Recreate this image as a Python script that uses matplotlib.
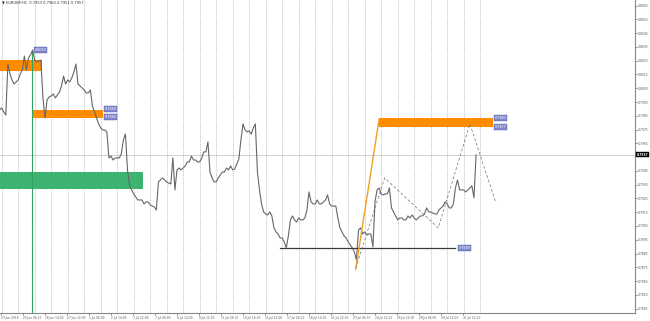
import numpy as np
import matplotlib
matplotlib.use('Agg')
import matplotlib.pyplot as plt
from matplotlib.patches import Rectangle

# EURGBP H1 closes, sampled every 3 bars
close = [
    0.79892, 0.79907, 0.79878, 0.79856, 0.80226, 0.80154, 0.80110, 0.80081, 0.80096, 0.80110,
    0.80154, 0.80183, 0.80284, 0.80183, 0.80270, 0.80292, 0.80328, 0.80255, 0.80241, 0.80248,
    0.80255, 0.79980, 0.79834, 0.79965, 0.79987, 0.79994, 0.80009, 0.79980, 0.80001, 0.80023,
    0.80067, 0.80139, 0.80081, 0.80110, 0.80096, 0.80125, 0.80168, 0.80226, 0.80081, 0.80067,
    0.80052, 0.80038, 0.80016, 0.80016, 0.80038, 0.79921, 0.79878, 0.79834, 0.79791, 0.79762,
    0.79747, 0.79747, 0.79733, 0.79544, 0.79558, 0.79529, 0.79544, 0.79544, 0.79544, 0.79573,
    0.79675, 0.79718, 0.79457, 0.79341, 0.79312, 0.79283, 0.79261, 0.79239, 0.79239, 0.79239,
    0.79210, 0.79225, 0.79225, 0.79203, 0.79195, 0.79188, 0.79166, 0.79370, 0.79384, 0.79399,
    0.79384, 0.79370, 0.79362, 0.79355, 0.79544, 0.79312, 0.79457, 0.79471, 0.79457, 0.79471,
    0.79486, 0.79515, 0.79515, 0.79558, 0.79529, 0.79529, 0.79515, 0.79515, 0.79544, 0.79588,
    0.79588, 0.79660, 0.79442, 0.79399, 0.79370, 0.79370, 0.79399, 0.79421, 0.79442, 0.79442,
    0.79471, 0.79457, 0.79486, 0.79457, 0.79464, 0.79500, 0.79537, 0.79675, 0.79791, 0.79747,
    0.79733, 0.79740, 0.79718, 0.79762, 0.79791, 0.79442, 0.79312, 0.79210, 0.79152, 0.79137,
    0.79130, 0.79152, 0.79123, 0.79036, 0.79007, 0.78992, 0.78963, 0.78963, 0.78934, 0.78891,
    0.78978, 0.79094, 0.79123, 0.79094, 0.79079, 0.79108, 0.79094, 0.79094, 0.79108, 0.79166,
    0.79297, 0.79225, 0.79210, 0.79210, 0.79239, 0.79210, 0.79210, 0.79225, 0.79239, 0.79275,
    0.79210, 0.79195, 0.79195, 0.79195, 0.79108, 0.79036, 0.79007, 0.78978, 0.78963, 0.78934,
    0.78912, 0.78891, 0.78862, 0.78803, 0.79021, 0.79036, 0.78992, 0.79007, 0.78985, 0.78992,
    0.78992, 0.78898, 0.79225, 0.79312, 0.79326, 0.79283, 0.79275, 0.79283, 0.79283, 0.79326,
    0.79181, 0.79152, 0.79123, 0.79094, 0.79108, 0.79108, 0.79094, 0.79094, 0.79123, 0.79108,
    0.79130, 0.79108, 0.79094, 0.79108, 0.79123, 0.79123, 0.79137, 0.79181, 0.79152, 0.79152,
    0.79145, 0.79137, 0.79137, 0.79166, 0.79181, 0.79195, 0.79225, 0.79210, 0.79181, 0.79181,
    0.79210, 0.79326, 0.79384, 0.79312, 0.79312, 0.79312, 0.79297, 0.79312, 0.79326, 0.79341,
    0.79254, 0.79566,
]
bar_step = 3
first_bar = -2

date_labels = ['23 Jun 2014', '25 Jun 06:00', '26 Jun 14:00', '27 Jun 22:00', '1 Jul 06:00',
               '2 Jul 14:00', '3 Jul 22:00', '7 Jul 06:00', '8 Jul 14:00', '9 Jul 22:00',
               '11 Jul 06:00', '14 Jul 14:00', '15 Jul 22:00', '17 Jul 06:00', '18 Jul 14:00',
               '21 Jul 22:00', '23 Jul 06:00', '24 Jul 14:00', '25 Jul 22:00', '29 Jul 06:00',
               '30 Jul 14:00', '31 Jul 22:00']
label_every = 32
n_days = 30

price_ticks = [round(0.8065 - 0.001 * i, 4) for i in range(23)]
last_price = 0.79566

# zones: (bar_start, bar_end, price_low, price_high)
supply_zones = [(-10, 59, 0.80178, 0.80255),
                (45, 149, 0.79836, 0.79892),
                (550, 715, 0.79771, 0.79832)]
demand_zone = (-10, 207, 0.79317, 0.79444)
zone_labels = [(151, 0.79900, '0.7989'), (151, 0.79842, '0.7984'),
               (718, 0.79832, '0.7983'), (718, 0.79771, '0.7977'),
               (49, 0.80328, '0.8033'), (666, 0.78888, '0.7889')]

support_bars = [406, 660]
support_price = 0.78888
impulse_bars = [516, 550]
impulse_prices = [0.78736, 0.79825]
zigzag_bars = [516, 558, 636, 682, 720]
zigzag_prices = [0.78745, 0.79399, 0.79036, 0.79791, 0.79217]
vline_bar = 45
vline_top = 0.80328

W, H = 650, 321
fig = plt.figure(figsize=(W / 100, H / 100), dpi=100)
ax = fig.add_axes([0, 8 / H, 635 / W, 313 / H])
ax.set_xlim(-1.45, 922.2)
ax.set_ylim(0.78418, 0.80691)

for j in range(n_days):
    ax.axvline(1 + 24 * j, color='#a8a8a8', lw=0.6, ls=(0, (1, 1.5)), zorder=1)

ax.axhline(last_price, color='#c8c8c8', lw=0.6, zorder=1)

for b0, b1, lo, hi in supply_zones:
    ax.add_patch(Rectangle((b0, lo), b1 - b0, hi - lo, color='#ff8c00', lw=0, zorder=2))
b0, b1, lo, hi = demand_zone
ax.add_patch(Rectangle((b0, lo), b1 - b0, hi - lo, color='#3cb371', lw=0, zorder=2))

ax.plot([vline_bar, vline_bar], [0.7800, vline_top], color='#2fa35f', lw=0.8, zorder=3)

x = first_bar + bar_step * np.arange(len(close))
ax.plot(x, close, color='#666666', lw=0.8, zorder=4)

ax.plot(support_bars, [support_price] * 2, color='#3a3a3a', lw=0.9, zorder=5)
ax.plot(impulse_bars, impulse_prices, color='#f0a020', lw=1.0, zorder=5)
ax.plot(zigzag_bars, zigzag_prices, color='#707070', lw=0.5, ls=(0, (4, 3)), zorder=5)

for b, p, txt in zone_labels:
    ax.text(b, p, txt, fontsize=2.4, color='white', ha='left', va='center', zorder=6,
            bbox=dict(boxstyle='square,pad=0.25', fc='#7f86cc', ec='#5b62b0', lw=0.3))

ax.text(0.003, 0.997, '\u25bc EURGBP,H1  0.7953 0.7960 0.7951 0.7957', transform=ax.transAxes,
        fontsize=2.6, color='#333333', ha='left', va='top')

for s in ['top', 'left']:
    ax.spines[s].set_visible(False)
for s in ['right', 'bottom']:
    ax.spines[s].set_color('#888888')
    ax.spines[s].set_linewidth(0.8)

ax.yaxis.tick_right()
ticks = [t for t in price_ticks if abs(t - 0.7955) > 1e-6]
ax.set_yticks(ticks)
ax.set_yticklabels([f'{t:.4f}' for t in ticks])
ax.tick_params(axis='y', length=1.5, width=0.5, pad=0.8, labelsize=2.2, colors='#555555')

xt = [label_every * i for i in range(len(date_labels))]
ax.set_xticks(xt)
ax.set_xticklabels(date_labels, ha='left')
ax.tick_params(axis='x', length=1.5, width=0.5, pad=0.8, labelsize=2.1, colors='#555555')

ax.text(1.003, (last_price - 0.78418) / (0.80691 - 0.78418), '0.7957', transform=ax.transAxes,
        fontsize=2.2, color='white', ha='left', va='center', fontweight='bold',
        bbox=dict(boxstyle='square,pad=0.15', fc='black', ec='black', lw=0.3))

fig.savefig('out.png', dpi=100)
